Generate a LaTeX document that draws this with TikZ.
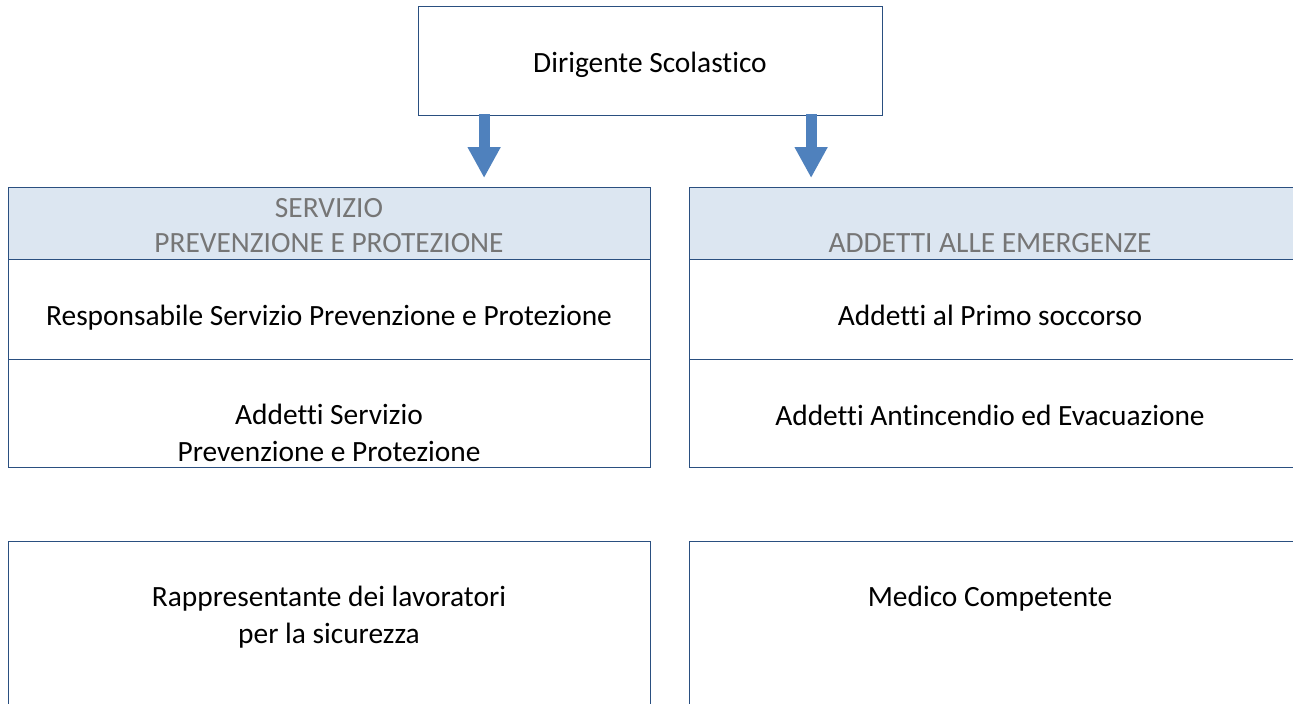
\documentclass[tikz,border=0pt]{standalone}
\usepackage{fontspec}
\setmainfont{Carlito}[Ligatures=NoCommon]
\usetikzlibrary{arrows.meta}
\definecolor{boxline}{HTML}{2A4F80}
\definecolor{arrowblue}{HTML}{4F81BD}
\definecolor{headfill}{HTML}{DCE6F1}
\definecolor{headtext}{HTML}{767676}
\tikzset{
  cell/.style={draw=boxline, line width=1.2pt, rectangle, inner sep=0pt, anchor=north west},
  headcell/.style={cell, fill=headfill},
  txt/.style={font=\fontsize{29.4}{36.5}\selectfont, align=center, text=black, inner sep=0pt},
  htxt/.style={font=\fontsize{29.4}{35}\selectfont, align=center, text=headtext, inner sep=0pt},
  blockarrow/.style={draw=arrowblue, line width=11pt, -{Triangle[width=31pt,length=31pt]}}
}
\begin{document}
\begin{tikzpicture}[x=1pt,y=-1pt]
\useasboundingbox (0,0) rectangle (1293,704);
% top box
\node[cell, minimum width=464pt, minimum height=109pt] (dir) at (418,6) {};
\node[txt, anchor=base] (dirt) at (650,72) {Dirigente Scolastico};
% left table
\node[headcell, minimum width=642pt, minimum height=72pt] (spph) at (8,187) {};
\node[cell, minimum width=642pt, minimum height=100pt] (rspp) at (8,259) {};
\node[cell, minimum width=642pt, minimum height=108pt] (aspp) at (8,359) {};
\node[htxt, anchor=base] (sppt) at (329,252) {SERVIZIO\\PREVENZIONE E PROTEZIONE};
\node[txt, anchor=base] (rsppt) at (329,325) {Responsabile Servizio Prevenzione e Protezione};
\node[txt, anchor=base] (asppt) at (329,461) {Addetti Servizio\\Prevenzione e Protezione};
% right table
\node[headcell, minimum width=607pt, minimum height=72pt] (emh) at (689,187) {};
\node[cell, minimum width=607pt, minimum height=100pt] (aps) at (689,259) {};
\node[cell, minimum width=607pt, minimum height=108pt] (aae) at (689,359) {};
\node[htxt, anchor=base] (emt) at (990,252) {ADDETTI ALLE EMERGENZE};
\node[txt, anchor=base] (apst) at (990,325) {Addetti al Primo soccorso};
\node[txt, anchor=base] (aaet) at (990,425) {Addetti Antincendio ed Evacuazione};
% bottom boxes
\node[cell, minimum width=642pt, minimum height=175pt] (rls) at (8,541) {};
\node[txt, anchor=base] (rlst) at (329,643) {Rappresentante dei lavoratori\\per la sicurezza};
\node[cell, minimum width=607pt, minimum height=175pt] (mc) at (689,541) {};
\node[txt, anchor=base] (mct) at (990,606) {Medico Competente};
% arrows
\draw[blockarrow] ([xshift=-166.5pt,yshift=2pt]dir.south) -- ([xshift=154.5pt,yshift=9pt]spph.north);
\draw[blockarrow] ([xshift=160.5pt,yshift=2pt]dir.south) -- ([xshift=-182pt,yshift=9pt]emh.north);
\end{tikzpicture}
\end{document}
